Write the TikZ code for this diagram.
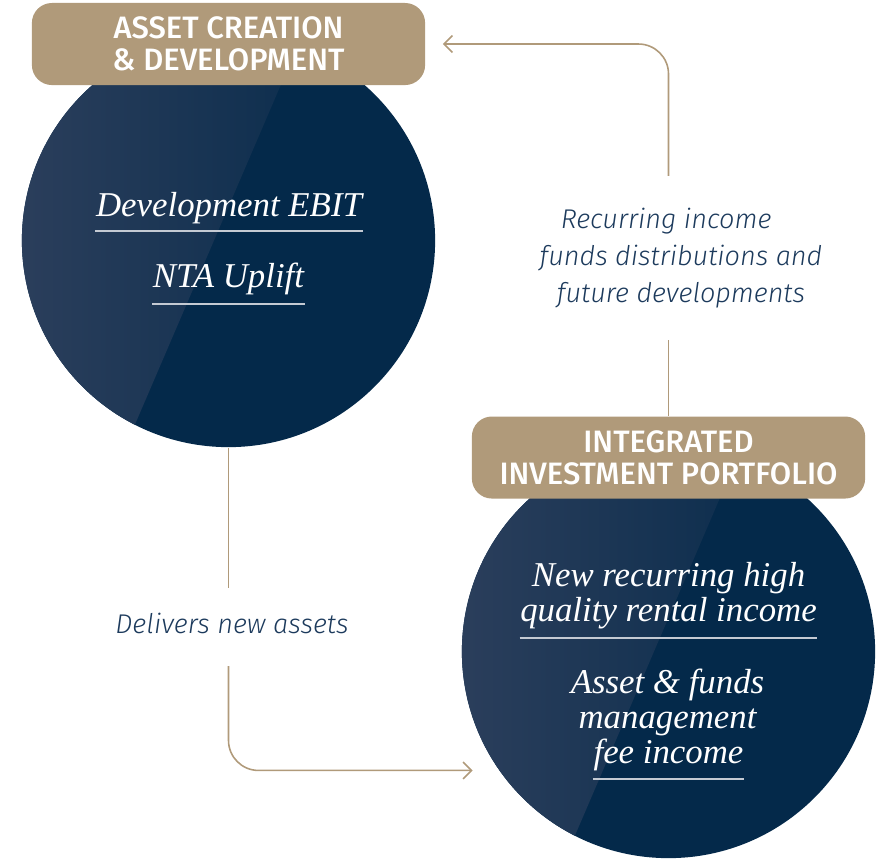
\documentclass[tikz,border=0pt]{standalone}
\usepackage{fontspec}
\setmainfont{Liberation Serif}
\newfontfamily\capsfont{Fira Sans}[UprightFont={* Medium}, ItalicFont={* Light Italic}]
\usetikzlibrary{arrows.meta}

\definecolor{navy}{HTML}{04294A}
\definecolor{glossl}{HTML}{2C3F5C}
\definecolor{glossr}{HTML}{0D2E4E}
\definecolor{sand}{HTML}{B09A7A}
\definecolor{ink}{HTML}{1C3A5C}
\definecolor{rulegray}{HTML}{C4CAD3}

\tikzset{
  hub/.style={circle, fill=navy, minimum size=4.13cm, inner sep=0},
  tag/.style={fill=sand, rounded corners=0.2cm, minimum width=3.93cm, minimum height=0.82cm,
    inner sep=0, text=white, align=center, font=\capsfont\fontsize{8.8}{9.1}\selectfont},
  idea/.style={anchor=base, inner sep=0, text=white, align=center,
    font=\itshape\fontsize{9.9}{9.7}\selectfont},
  note/.style={anchor=base, inner xsep=0, inner ysep=0.32cm, text=ink, align=center,
    font=\capsfont\itshape\fontsize{7.7}{10.4}\selectfont},
  flow/.style={draw=sand, line width=0.45pt},
  tip/.style={-{Straight Barb[length=2.4pt, width=4.8pt]}},
  rule/.style={draw=rulegray, line width=0.5pt}
}

\begin{document}
\begin{tikzpicture}[x=0.01cm, y=-0.01cm]
  \useasboundingbox (0,0) rectangle (885,859);

  % the two hubs
  \node[hub] (dev) at (228.5,240.5) {};
  \node[hub] (inv) at (668.5,651.5) {};
  \foreach \c in {dev,inv} {
    \begin{scope}
      \clip (\c.center) circle (2.065cm);
      \shade[left color=glossl, right color=glossr, shift={(\c.center)}]
        (-220,-220) -- (80,-220) -- (-109,220) -- (-220,220) -- cycle;
    \end{scope}
  }

  % what each hub yields (placed by the last baseline)
  \node[idea] (ebit) at (229,216) {Development EBIT};
  \node[idea] (nta) at (228.5,287) {NTA Uplift};
  \node[idea] (rental) at (668.5,621) {New recurring high\\quality rental income};
  \node[idea] (asset) at (667.5,728) {Asset \& funds\\management};
  \node[idea] (fee) at (668.5,763) {fee income};
  \foreach \t/\d in {ebit/15, nta/17, rental/17, fee/16}
    \draw[rule] ([shift={(0,\d)}]\t.base west) -- ([shift={(0,\d)}]\t.base east);

  % headers
  \node[tag] (create) at (228.5,44) {ASSET CREATION\\\& DEVELOPMENT};
  \node[tag] (portfolio) at (668.5,457.5) {INTEGRATED\\INVESTMENT PORTFOLIO};

  % flows between the hubs
  \node[note] (recur) at (681,302)
    {Recurring income\hspace*{1.1em}\\funds distributions and\\future developments};
  \node[note] (deliver) at (232,633) {Delivers new assets};

  \draw[flow] (portfolio.north) -- (portfolio.north |- recur.south);
  \draw[flow, tip, rounded corners=0.3cm, shorten >=0.17cm]
    (portfolio.north |- recur.north) |- (create.east);
  \draw[flow, shorten >=-0.08cm] (dev.south) -- (dev.south |- deliver.north);
  \draw[flow, tip, rounded corners=0.3cm, shorten >=0.26cm]
    (dev.south |- deliver.south) |- (inv.215);
\end{tikzpicture}
\end{document}
